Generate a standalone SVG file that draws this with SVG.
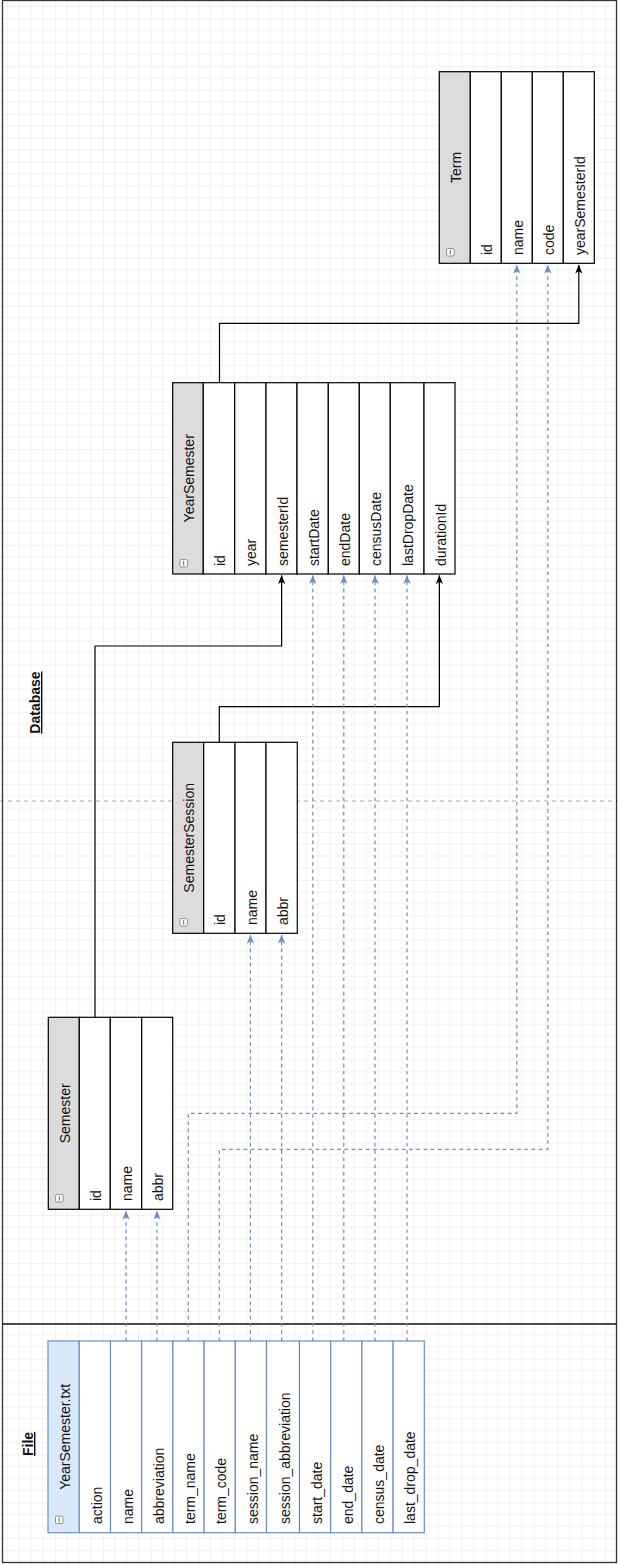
<svg xmlns="http://www.w3.org/2000/svg" width="618" height="1564" viewBox="0 0 618 1564">
<defs>
<pattern id="grid" patternUnits="userSpaceOnUse" x="7.1" y="18.3" width="47.87" height="47.87">
<path d="M0,11.97 H47.87 M0,23.93 H47.87 M0,35.9 H47.87 M11.97,0 V47.87 M23.93,0 V47.87 M35.9,0 V47.87" stroke="#f1f1f1" stroke-width="1" fill="none"/>
<path d="M0,0 H47.87 M0,0 V47.87" stroke="#e3e3e3" stroke-width="1" fill="none"/>
</pattern>
<marker id="ab" viewBox="0 0 10 8" refX="9.5" refY="4" markerWidth="9" markerHeight="7.2" markerUnits="userSpaceOnUse" orient="auto"><path d="M0,0 L10,4 L0,8 L2.5,4 Z" fill="#000"/></marker>
<marker id="au" viewBox="0 0 10 8" refX="9.5" refY="4" markerWidth="9" markerHeight="7.2" markerUnits="userSpaceOnUse" orient="auto"><path d="M0,0 L10,4 L0,8 L2.5,4 Z" fill="#6c8ebf"/></marker>
</defs>
<style>
text{font-family:"Liberation Sans",Arial,sans-serif;font-size:14px;fill:#111}
.lbl{font-weight:bold;text-decoration:underline;text-anchor:middle}
.hd{text-anchor:middle}
.db rect.h{fill:#dcdcdc;stroke:#000;stroke-width:1.2}
.db rect.r{fill:#fff;stroke:#000;stroke-width:1.2}
.fl rect.h{fill:#dae8fc;stroke:#6c8ebf;stroke-width:1.2}
.fl rect.r{fill:#fff;stroke:#6c8ebf;stroke-width:1.2}
.ic{fill:#fff;stroke:#777;stroke-width:0.8}
.icl{stroke:#555;stroke-width:0.9}
.solid{fill:none;stroke:#000;stroke-width:1.2;marker-end:url(#ab)}
.dash{fill:none;stroke:#6c8ebf;stroke-width:1.2;stroke-dasharray:3.6 3.6;marker-end:url(#au)}
</style>
<rect x="0" y="0" width="618" height="1564" fill="#fff"/>
<rect x="0" y="0" width="618" height="1564" fill="url(#grid)"/>
<line x1="0" y1="801" x2="618" y2="801" stroke="#aaa" stroke-width="1" stroke-dasharray="4 4"/>
<g id="frame">
<rect x="2.5" y="0.5" width="614" height="1562" fill="none" stroke="#333" stroke-width="1.3"/>
<line x1="2.5" y1="1324" x2="616.5" y2="1324" stroke="#111" stroke-width="1.3"/>
<text class="lbl" transform="translate(40,702.5) rotate(-90)">Database</text>
<text class="lbl" transform="translate(33,1444) rotate(-90)">File</text>
</g>

<g id="connectors">
<path class="solid" d="M95,1017.3 V646 H281.6 V575.5"/>
<path class="solid" d="M219.3,742.3 V706.7 H439.4 V575.5"/>
<path class="solid" d="M219.5,382.7 V323.3 H578.8 V265"/>
<path class="dash" d="M126,1341 V1211"/>
<path class="dash" d="M157,1341 V1211"/>
<path class="dash" d="M188.3,1341 V1113.3 H516.8 V265"/>
<path class="dash" d="M219.3,1341 V1149.3 H547.8 V265"/>
<path class="dash" d="M250.4,1341 V935"/>
<path class="dash" d="M281.6,1341 V935"/>
<path class="dash" d="M312.8,1341 V575.5"/>
<path class="dash" d="M343.8,1341 V575.5"/>
<path class="dash" d="M375,1341 V575.5"/>
<path class="dash" d="M407,1341 V575.5"/>
</g>

<g id="file" class="fl">
<rect class="h" x="48" y="1341" width="31.3" height="191.7"/>
<rect class="r" x="79.3" y="1341" width="31.2" height="191.7"/>
<rect class="r" x="110.5" y="1341" width="31.2" height="191.7"/>
<rect class="r" x="141.7" y="1341" width="31.2" height="191.7"/>
<rect class="r" x="172.9" y="1341" width="31.2" height="191.7"/>
<rect class="r" x="204.1" y="1341" width="31.2" height="191.7"/>
<rect class="r" x="235.3" y="1341" width="31.2" height="191.7"/>
<rect class="r" x="266.5" y="1341" width="33" height="191.7"/>
<rect class="r" x="299.5" y="1341" width="31.2" height="191.7"/>
<rect class="r" x="330.7" y="1341" width="31.2" height="191.7"/>
<rect class="r" x="361.9" y="1341" width="31.2" height="191.7"/>
<rect class="r" x="393.1" y="1341" width="31.2" height="191.7"/>
<rect class="ic" x="55.5" y="1516.2" width="7.4" height="7.4" rx="1"/><line class="icl" x1="59.2" y1="1517.6" x2="59.2" y2="1522.2"/>
<text class="hd" transform="translate(69.8,1436.8) rotate(-90)">YearSemester.txt</text>
<text transform="translate(101.6,1524) rotate(-90)">action</text>
<text transform="translate(132.8,1524) rotate(-90)">name</text>
<text transform="translate(164,1524) rotate(-90)">abbreviation</text>
<text transform="translate(195.2,1524) rotate(-90)">term_name</text>
<text transform="translate(226.4,1524) rotate(-90)">term_code</text>
<text transform="translate(257.6,1524) rotate(-90)">session_name</text>
<text transform="translate(289.7,1524) rotate(-90)">session_abbreviation</text>
<text transform="translate(321.8,1524) rotate(-90)">start_date</text>
<text transform="translate(353,1524) rotate(-90)">end_date</text>
<text transform="translate(384.2,1524) rotate(-90)">census_date</text>
<text transform="translate(415.4,1524) rotate(-90)">last_drop_date</text>
</g>

<g id="semester" class="db">
<rect class="h" x="48.3" y="1017.3" width="31" height="192"/>
<rect class="r" x="79.3" y="1017.3" width="31" height="192"/>
<rect class="r" x="110.3" y="1017.3" width="31.4" height="192"/>
<rect class="r" x="141.7" y="1017.3" width="31" height="192"/>
<rect class="ic" x="55.6" y="1194.6" width="7.4" height="7.4" rx="1"/><line class="icl" x1="59.3" y1="1196" x2="59.3" y2="1200.6"/>
<text class="hd" transform="translate(69.8,1113.3) rotate(-90)">Semester</text>
<text transform="translate(100.8,1201) rotate(-90)">id</text>
<text transform="translate(132,1201) rotate(-90)">name</text>
<text transform="translate(163.2,1201) rotate(-90)">abbr</text>
</g>

<g id="semestersession" class="db">
<rect class="h" x="172.7" y="742.3" width="31" height="191"/>
<rect class="r" x="203.7" y="742.3" width="31.3" height="191"/>
<rect class="r" x="235" y="742.3" width="31" height="191"/>
<rect class="r" x="266" y="742.3" width="31.3" height="191"/>
<rect class="ic" x="180" y="918.6" width="7.4" height="7.4" rx="1"/><line class="icl" x1="183.7" y1="920" x2="183.7" y2="924.6"/>
<text class="hd" transform="translate(194.2,837.8) rotate(-90)">SemesterSession</text>
<text transform="translate(225.3,925) rotate(-90)">id</text>
<text transform="translate(256.5,925) rotate(-90)">name</text>
<text transform="translate(287.6,925) rotate(-90)">abbr</text>
</g>

<g id="yearsemester" class="db">
<rect class="h" x="172.7" y="382.7" width="30.6" height="191.3"/>
<rect class="r" x="203.3" y="382.7" width="31.4" height="191.3"/>
<rect class="r" x="234.7" y="382.7" width="31.3" height="191.3"/>
<rect class="r" x="266" y="382.7" width="31" height="191.3"/>
<rect class="r" x="297" y="382.7" width="31.3" height="191.3"/>
<rect class="r" x="328.3" y="382.7" width="31" height="191.3"/>
<rect class="r" x="359.3" y="382.7" width="31" height="191.3"/>
<rect class="r" x="390.3" y="382.7" width="33.7" height="191.3"/>
<rect class="r" x="424" y="382.7" width="31" height="191.3"/>
<rect class="ic" x="180" y="559.6" width="7.4" height="7.4" rx="1"/><line class="icl" x1="183.7" y1="561" x2="183.7" y2="565.6"/>
<text class="hd" transform="translate(194,478.3) rotate(-90)">YearSemester</text>
<text transform="translate(225,566) rotate(-90)">id</text>
<text transform="translate(256.3,566) rotate(-90)">year</text>
<text transform="translate(287.5,566) rotate(-90)">semesterId</text>
<text transform="translate(318.6,566) rotate(-90)">startDate</text>
<text transform="translate(349.8,566) rotate(-90)">endDate</text>
<text transform="translate(380.8,566) rotate(-90)">censusDate</text>
<text transform="translate(413.1,566) rotate(-90)">lastDropDate</text>
<text transform="translate(445.5,566) rotate(-90)">durationId</text>
</g>

<g id="term" class="db">
<rect class="h" x="439.3" y="71.7" width="31" height="191.6"/>
<rect class="r" x="470.3" y="71.7" width="31" height="191.6"/>
<rect class="r" x="501.3" y="71.7" width="31" height="191.6"/>
<rect class="r" x="532.3" y="71.7" width="31" height="191.6"/>
<rect class="r" x="563.3" y="71.7" width="31" height="191.6"/>
<rect class="ic" x="446.6" y="248.6" width="7.4" height="7.4" rx="1"/><line class="icl" x1="450.3" y1="250" x2="450.3" y2="254.6"/>
<text class="hd" transform="translate(460.8,167.5) rotate(-90)">Term</text>
<text transform="translate(491.8,255) rotate(-90)">id</text>
<text transform="translate(522.8,255) rotate(-90)">name</text>
<text transform="translate(553.8,255) rotate(-90)">code</text>
<text transform="translate(584.8,255) rotate(-90)">yearSemesterId</text>
</g>
</svg>
